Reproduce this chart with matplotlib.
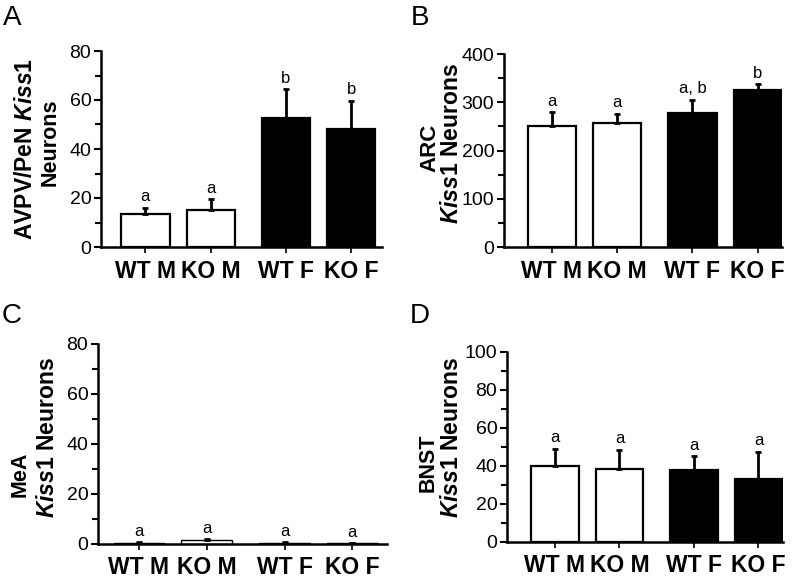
import matplotlib
matplotlib.use("Agg")
import matplotlib.pyplot as plt
from matplotlib.ticker import MultipleLocator

plt.rcParams["font.family"] = ["Liberation Sans", "DejaVu Sans"]
plt.rcParams["mathtext.fontset"] = "custom"
plt.rcParams["mathtext.it"] = "Liberation Sans:italic:bold"
plt.rcParams["mathtext.rm"] = "Liberation Sans:bold"

groups = ["WT M", "KO M", "WT F", "KO F"]
bar_colors = ["white", "white", "black", "black"]

avpv_mean = [13.4, 15.1, 52.8, 48.2]
avpv_sem = [2.6, 4.4, 11.6, 11.5]
avpv_letters = ["a", "a", "b", "b"]

arc_mean = [251, 257, 278, 325]
arc_sem = [28, 19, 27, 13]
arc_letters = ["a", "a", "a, b", "b"]

mea_mean = [0.6, 1.5, 0.5, 0.3]
mea_sem = [0.3, 0.4, 0.3, 0.1]
mea_letters = ["a", "a", "a", "a"]

bnst_mean = [39.8, 38.6, 38.1, 33.4]
bnst_sem = [9.4, 10.0, 7.0, 14.0]
bnst_letters = ["a", "a", "a", "a"]

positions = [0, 1, 2.15, 3.15]

W, H = 797, 582
fig = plt.figure(figsize=(W / 100, H / 100), dpi=100)


def px_axes(x0, x1, ytop, ybot):
    return fig.add_axes([x0 / W, 1 - ybot / H, (x1 - x0) / W, (ybot - ytop) / H])


def draw_panel(ax, mean, sem, letters, ymax, major, xlim, letter_gap, edge_lw=1.6):
    ax.bar(positions, mean, width=0.74, color=bar_colors, edgecolor="black",
           linewidth=edge_lw, zorder=2)
    ax.errorbar(positions, mean, yerr=[[0] * 4, sem], fmt="none", ecolor="black",
                elinewidth=2, capsize=2.5, capthick=2, zorder=3)
    for x, m, s, lab in zip(positions, mean, sem, letters):
        ax.text(x, m + s + letter_gap, lab, ha="center", va="bottom", fontsize=12)
    ax.set_ylim(0, ymax)
    ax.set_xlim(*xlim)
    ax.yaxis.set_major_locator(MultipleLocator(major))
    ax.yaxis.set_minor_locator(MultipleLocator(major / 2))
    ax.set_xticks(positions)
    ax.set_xticklabels(groups, fontsize=16.5, fontweight="bold")
    ax.tick_params(axis="y", which="major", length=5, width=1.5, labelsize=14, pad=2)
    ax.tick_params(axis="y", which="minor", length=4, width=1.5)
    ax.tick_params(axis="x", length=4, width=1.2, pad=5)
    for side in ["top", "right"]:
        ax.spines[side].set_visible(False)
    for side in ["left", "bottom"]:
        ax.spines[side].set_linewidth(1.8)


axA = px_axes(101, 382, 51, 247)
draw_panel(axA, avpv_mean, avpv_sem, avpv_letters, 80, 20, (-0.68, 3.62), 1.5)
axB = px_axes(504, 782, 54, 247)
draw_panel(axB, arc_mean, arc_sem, arc_letters, 400, 100, (-0.73, 3.52), 7)
axC = px_axes(98, 387, 344, 544)
draw_panel(axC, mea_mean, mea_sem, mea_letters, 80, 20, (-0.6, 3.66), 1.2, edge_lw=1.0)
axD = px_axes(507, 783, 352, 542)
draw_panel(axD, bnst_mean, bnst_sem, bnst_letters, 100, 20, (-0.74, 3.53), 2)

# y-axis titles, one line at a time (x, y centre in pixels)
kiss_neurons = "$\\mathit{Kiss1}$ Neurons"
ylabel_lines = [
    ("AVPV/PeN $\\mathit{Kiss1}$", 26, 149, 16.5),
    ("Neurons", 50, 142, 15.5),
    ("ARC", 430, 148, 16),
    (kiss_neurons, 452, 143, 16.5),
    ("MeA", 20, 474, 15.5),
    (kiss_neurons, 48, 437, 16.5),
    ("BNST", 428, 463, 15.5),
    (kiss_neurons, 452, 437, 16.5),
]
for txt, x, y, size in ylabel_lines:
    fig.text(x / W, 1 - y / H, txt, rotation=90, ha="center", va="center",
             fontsize=size, fontweight="bold")

for lab, x, y in [("A", 3, 5), ("B", 411, 5), ("C", 2, 303), ("D", 410, 303)]:
    fig.text(x / W, 1 - y / H, lab, fontsize=20, ha="left", va="top")

fig.savefig("out.png", dpi=100)
